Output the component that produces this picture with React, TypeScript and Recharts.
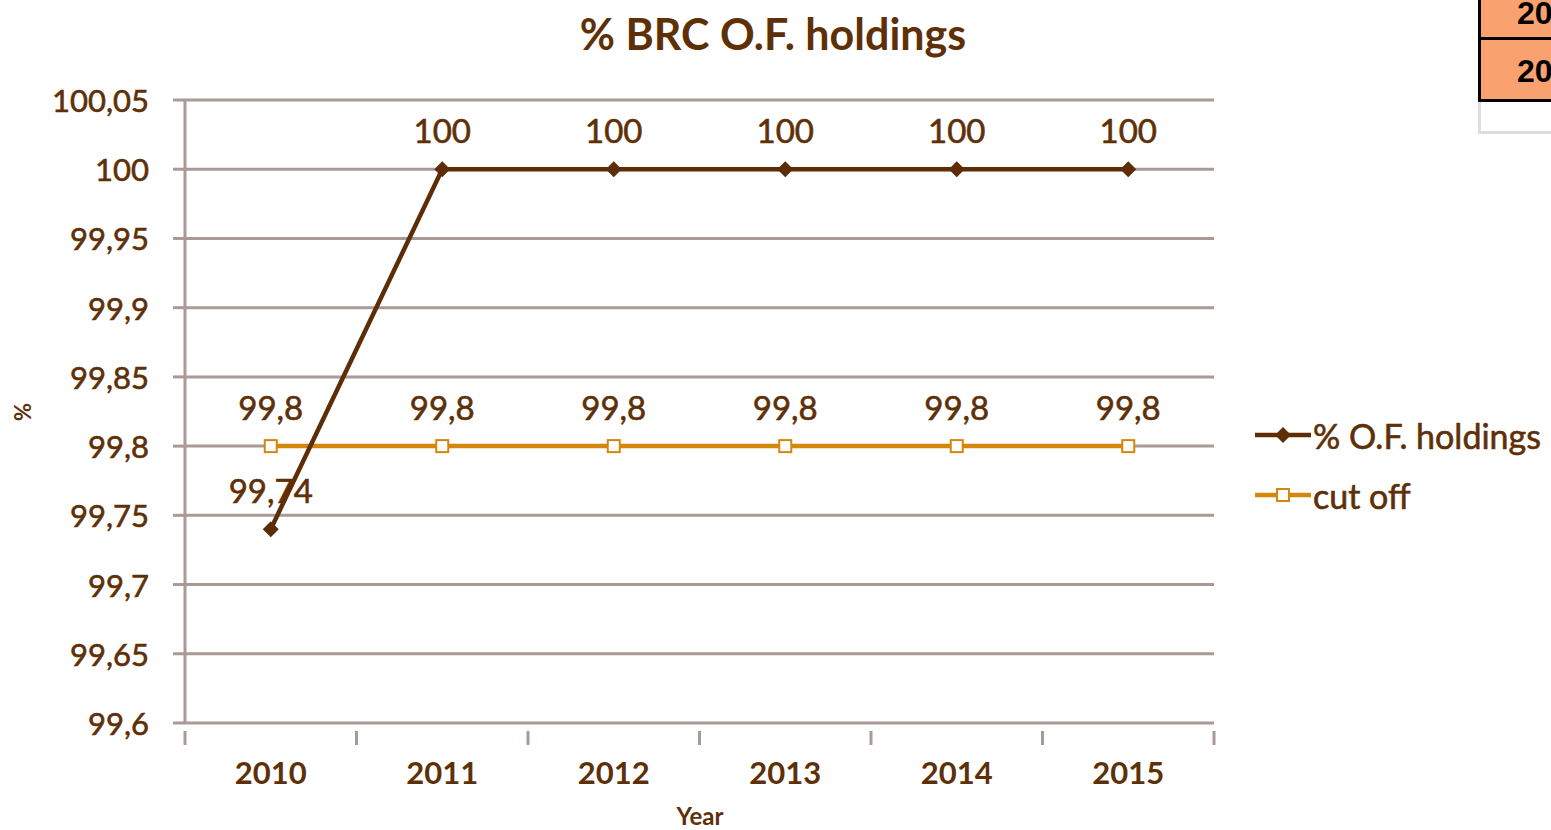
import React from "react";
import {
  LineChart,
  Line,
  XAxis,
  YAxis,
  CartesianGrid,
  LabelList,
} from "recharts";

const years = ["2010", "2011", "2012", "2013", "2014", "2015"];
const holdings = [99.74, 100, 100, 100, 100, 100];
const cutOff = [99.8, 99.8, 99.8, 99.8, 99.8, 99.8];
const yTicks = [99.6, 99.65, 99.7, 99.75, 99.8, 99.85, 99.9, 99.95, 100, 100.05];

const data = years.map((year, i) => ({
  year,
  holdings: holdings[i],
  cutOff: cutOff[i],
}));

const FONT = "Lato, 'Noto Sans', sans-serif";
const TEXT = "#5e3008";
const GRID = "#a89a95";
const BROWN = "#5c2d07";
const ORANGE = "#d4870b";

const W = 1551;
const H = 830;
const PLOT_LEFT = 185;
const PLOT_RIGHT = 1214;
const HALF_BAND = (PLOT_RIGHT - PLOT_LEFT) / years.length / 2;

const fmt = (v: number) => String(Number(v.toFixed(2))).replace(".", ",");

// eslint-disable-next-line @typescript-eslint/no-explicit-any
const YearTick = (props: any) => {
  const { x, y, payload, index } = props;
  const last = index === years.length - 1;
  return (
    <g>
      <line x1={x - HALF_BAND} x2={x - HALF_BAND} y1={y} y2={y + 14} stroke={GRID} strokeWidth={3} />
      {last && (
        <line x1={x + HALF_BAND} x2={x + HALF_BAND} y1={y} y2={y + 14} stroke={GRID} strokeWidth={3} />
      )}
      <text
        x={x}
        y={y + 41}
        textAnchor="middle"
        dominantBaseline="central"
        fill={TEXT}
        fontSize={31}
        fontWeight="bold"
        fontFamily={FONT}
      >
        {payload.value}
      </text>
    </g>
  );
};

// eslint-disable-next-line @typescript-eslint/no-explicit-any
const YTick = (props: any) => {
  const { x, y, payload } = props;
  return (
    <text
      x={x}
      y={y}
      textAnchor="end"
      dominantBaseline="central"
      fill={TEXT}
      stroke={TEXT}
      strokeWidth={0.6}
      fontSize={31}
      fontFamily={FONT}
    >
      {fmt(payload.value)}
    </text>
  );
};

// eslint-disable-next-line @typescript-eslint/no-explicit-any
const Diamond = (props: any) => {
  const { cx, cy } = props;
  if (cx == null || cy == null) return null;
  return <path d={`M${cx},${cy - 8} L${cx + 8},${cy} L${cx},${cy + 8} L${cx - 8},${cy} Z`} fill={BROWN} />;
};

// eslint-disable-next-line @typescript-eslint/no-explicit-any
const Square = (props: any) => {
  const { cx, cy } = props;
  if (cx == null || cy == null) return null;
  return <rect x={cx - 6} y={cy - 6} width={12} height={12} fill="#fff" stroke={ORANGE} strokeWidth={2} />;
};

// eslint-disable-next-line @typescript-eslint/no-explicit-any
const ValueLabel = (props: any) => {
  const { x, y, value } = props;
  return (
    <text
      x={x}
      y={y - 39}
      textAnchor="middle"
      dominantBaseline="central"
      fill={TEXT}
      stroke={TEXT}
      strokeWidth={0.6}
      fontSize={33}
      fontFamily={FONT}
    >
      {fmt(value)}
    </text>
  );
};

const LegendBox = () => (
  <div
    style={{
      position: "absolute",
      left: 1255,
      top: 405,
      fontFamily: FONT,
      fontSize: 34,
      color: TEXT,
      WebkitTextStroke: "0.6px " + TEXT,
      whiteSpace: "nowrap",
    }}
  >
    <div style={{ display: "flex", alignItems: "center", height: 60 }}>
      <svg width={58} height={20}>
        <line x1={0} x2={56} y1={10} y2={10} stroke={BROWN} strokeWidth={4.5} />
        <path d="M28,2 L36,10 L28,18 L20,10 Z" fill={BROWN} />
      </svg>
      <span>% O.F. holdings</span>
    </div>
    <div style={{ display: "flex", alignItems: "center", height: 60 }}>
      <svg width={58} height={20}>
        <line x1={0} x2={56} y1={10} y2={10} stroke={ORANGE} strokeWidth={4.5} />
        <rect x={22} y={4} width={12} height={12} fill="#fff" stroke={ORANGE} strokeWidth={2} />
      </svg>
      <span>cut off</span>
    </div>
  </div>
);

const cell: React.CSSProperties = {
  position: "absolute",
  left: 1478,
  width: 80,
  background: "#f9a26f",
  borderLeft: "3px solid #000",
  borderBottom: "3px solid #000",
  fontFamily: "'Liberation Sans', sans-serif",
  fontWeight: "bold",
  fontSize: 32,
  color: "#000",
  boxSizing: "border-box",
  paddingLeft: 36,
  overflow: "hidden",
  whiteSpace: "nowrap",
};

export default function App() {
  return (
    <div style={{ position: "fixed", left: 0, top: 0, width: W, height: H, background: "#fff", overflow: "hidden" }}>
      <div
        style={{
          position: "absolute",
          left: 773,
          top: 8,
          transform: "translateX(-50%)",
          whiteSpace: "nowrap",
          fontFamily: FONT,
          fontWeight: "bold",
          fontSize: 43,
          color: TEXT,
        }}
      >
        % BRC O.F. holdings
      </div>

      <LineChart
        width={W}
        height={H}
        data={data}
        margin={{ top: 100, right: W - PLOT_RIGHT, bottom: 0, left: 0 }}
      >
        <CartesianGrid vertical={false} stroke={GRID} strokeWidth={3} />
        <XAxis
          dataKey="year"
          height={107}
          padding={{ left: HALF_BAND, right: HALF_BAND }}
          axisLine={false}
          tickLine={false}
          tick={<YearTick />}
          interval={0}
        />
        <YAxis
          width={PLOT_LEFT}
          domain={[99.6, 100.05]}
          ticks={yTicks}
          interval={0}
          tickSize={12}
          tickMargin={24}
          axisLine={{ stroke: GRID, strokeWidth: 3 }}
          tickLine={{ stroke: GRID, strokeWidth: 3 }}
          tick={<YTick />}
        />
        <Line
          type="linear"
          dataKey="cutOff"
          stroke={ORANGE}
          strokeWidth={4.5}
          dot={<Square />}
          activeDot={false}
          isAnimationActive={false}
        >
          <LabelList dataKey="cutOff" content={<ValueLabel />} />
        </Line>
        <Line
          type="linear"
          dataKey="holdings"
          stroke={BROWN}
          strokeWidth={4.5}
          dot={<Diamond />}
          activeDot={false}
          isAnimationActive={false}
        >
          <LabelList dataKey="holdings" content={<ValueLabel />} />
        </Line>
      </LineChart>

      <LegendBox />

      <div
        style={{
          position: "absolute",
          left: 22,
          top: 412,
          transform: "translate(-50%, -50%) rotate(-90deg)",
          fontFamily: FONT,
          fontWeight: "bold",
          fontSize: 22,
          color: TEXT,
        }}
      >
        %
      </div>
      <div
        style={{
          position: "absolute",
          left: 700,
          top: 816,
          transform: "translate(-50%, -50%)",
          fontFamily: FONT,
          fontWeight: "bold",
          fontSize: 24,
          lineHeight: "26px",
          color: TEXT,
        }}
      >
        Year
      </div>

      <div style={{ ...cell, top: -22, height: 62, lineHeight: "70px" }}>20</div>
      <div style={{ ...cell, top: 40, height: 62, lineHeight: "62px" }}>20</div>
      <div
        style={{
          position: "absolute",
          left: 1478,
          top: 102,
          width: 80,
          height: 32,
          borderLeft: "3px solid #ddd",
          borderBottom: "3px solid #ddd",
          boxSizing: "border-box",
        }}
      />
    </div>
  );
}
